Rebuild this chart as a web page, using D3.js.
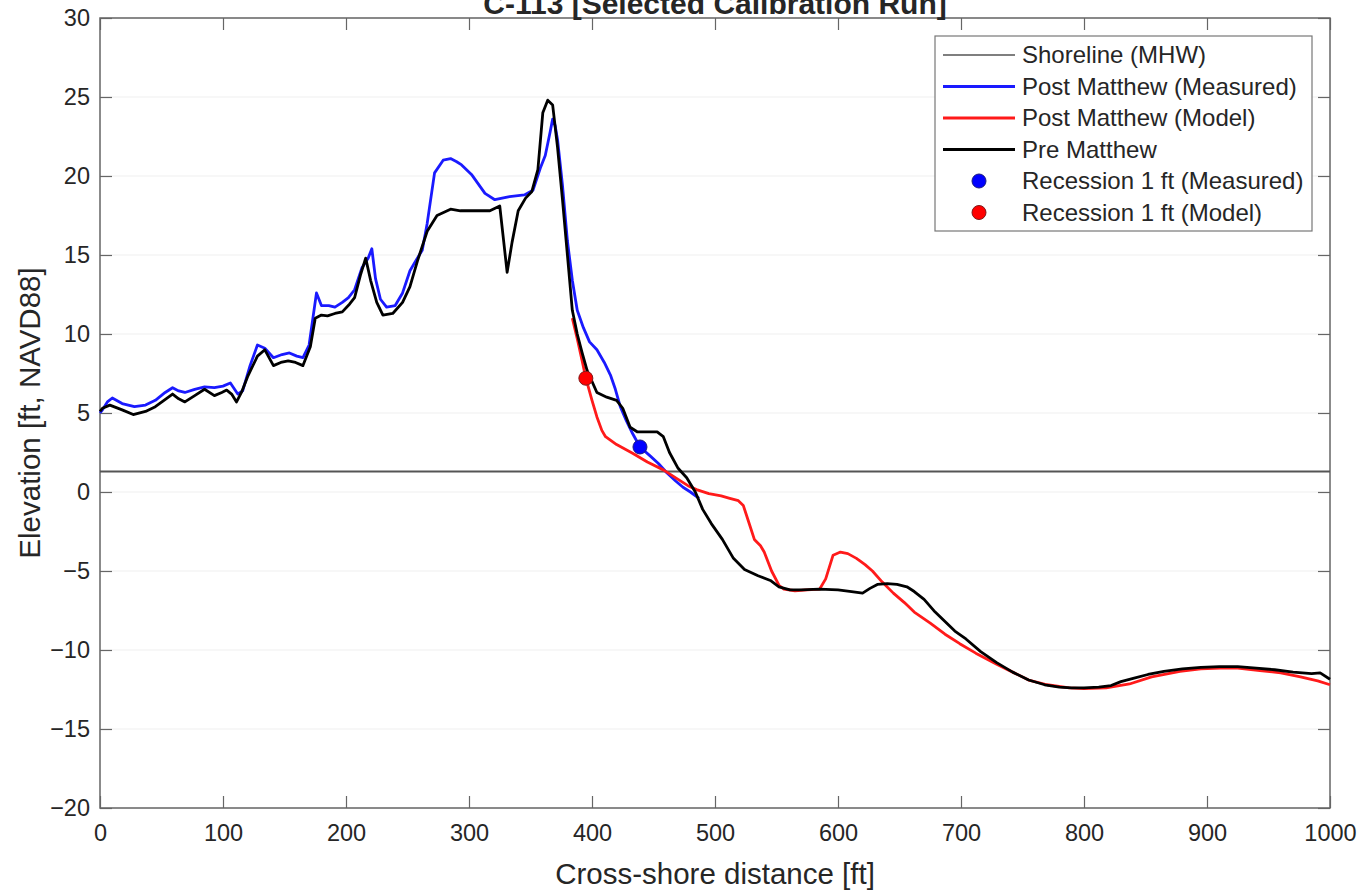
<!DOCTYPE html>
<html>
<head>
<meta charset="utf-8">
<title>C-113 profile</title>
<script src="https://d3js.org/d3.v7.min.js"></script>
<style>
  body { margin: 0; background: #fff; }
  text { font-family: "Liberation Sans", Arial, Helvetica, sans-serif; fill: #262626; }
</style>
</head>
<body>
<script>
// pre-storm profile (black)
var preDist = [0,2,8,18,27,37,45,52,59,64,69,77,85,93,99,103,107,111,115,120,128,134,141,147,153,159,165,171,175,180,185,191,197,203,207,212,216,220,225,230,238,246,252,258,266,274,285,293,301,310,317,325,328,331,335,340,346,351,356,360,364,368,372,376,380,384,388,392,396,404,412,420,425,431,437,444,453,458,463,470,477,484,490,497,506,515,524,535,545,552,561,570,585,600,611,620,626,632,640,648,656,662,670,679,687,695,704,716,729,742,755,768,780,790,800,812,822,830,840,852,865,880,895,910,925,940,955,970,985,992,1000];
var preElev = [5.1,5.3,5.5,5.2,4.9,5.1,5.4,5.8,6.2,5.9,5.7,6.1,6.5,6.1,6.3,6.45,6.2,5.7,6.3,7.3,8.6,9.0,8.0,8.2,8.3,8.2,8.0,9.2,11.0,11.2,11.15,11.3,11.4,11.9,12.3,13.8,14.8,13.4,12.0,11.2,11.3,12.0,13.0,14.6,16.5,17.5,17.9,17.8,17.8,17.8,17.8,18.1,16.0,13.9,15.8,17.8,18.6,19.0,20.4,24.0,24.8,24.5,21.8,18.5,15.0,11.5,10.0,8.8,7.7,6.3,6.0,5.8,5.3,4.1,3.8,3.8,3.8,3.5,2.5,1.5,0.9,0.0,-1.1,-2.0,-3.0,-4.2,-4.9,-5.3,-5.6,-6.0,-6.2,-6.2,-6.15,-6.2,-6.3,-6.4,-6.1,-5.85,-5.8,-5.85,-6.0,-6.3,-6.8,-7.6,-8.2,-8.8,-9.3,-10.1,-10.8,-11.4,-11.9,-12.2,-12.35,-12.4,-12.4,-12.35,-12.25,-12.0,-11.8,-11.55,-11.35,-11.2,-11.1,-11.05,-11.05,-11.15,-11.25,-11.4,-11.5,-11.45,-11.85];

// post-storm survey (blue)
var measDist = [0,2,6,10,18,28,37,45,53,59,64,69,77,85,93,100,106,112,116,122,128,134,141,148,154,160,165,170,176,180,186,191,197,202,207,213,218,221,224,228,233,240,246,252,258,262,266,272,279,285,290,294,302,313,321,333,345,352,358,362,366,368,370,372,376,380,384,388,393,398,404,410,415,419,423,428,433,439,447,454,461,468,474,480,487];
var measElev = [5.0,5.2,5.7,5.95,5.6,5.4,5.5,5.8,6.3,6.6,6.4,6.3,6.5,6.65,6.6,6.7,6.9,6.2,6.4,8.0,9.3,9.1,8.5,8.7,8.8,8.6,8.5,9.3,12.6,11.8,11.8,11.7,12.0,12.3,12.8,14.2,14.8,15.4,13.5,12.2,11.7,11.8,12.6,14.0,14.8,15.3,17.0,20.2,21.0,21.1,20.9,20.7,20.1,18.9,18.5,18.7,18.8,19.1,20.5,21.3,22.8,23.6,23.2,22.3,19.4,15.9,13.4,11.5,10.4,9.5,9.0,8.2,7.4,6.5,5.4,4.5,3.7,2.85,2.3,1.8,1.2,0.7,0.3,0.0,-0.4];

// model result (red)
var modelDist = [384,388,392,395,400,404,408,411,420,433,445,458,470,478,485,495,505,512,519,523,527,532,537,540,546,552,556,565,575,585,590,596,602,608,615,622,628,636,645,654,662,675,687,699,712,729,742,755,770,788,800,818,837,855,878,895,911,925,943,960,976,990,1000];
var modelElev = [11.0,9.7,8.3,7.2,5.8,4.75,3.9,3.5,3.0,2.45,1.9,1.4,0.8,0.4,0.15,-0.1,-0.25,-0.4,-0.55,-0.85,-1.8,-3.0,-3.4,-3.8,-5.0,-5.9,-6.15,-6.25,-6.2,-6.15,-5.5,-4.0,-3.8,-3.9,-4.2,-4.6,-5.0,-5.7,-6.4,-7.0,-7.6,-8.3,-9.0,-9.6,-10.2,-10.9,-11.4,-11.9,-12.2,-12.4,-12.45,-12.4,-12.15,-11.7,-11.35,-11.2,-11.15,-11.15,-11.3,-11.45,-11.7,-11.95,-12.2];

var shorelineElev = 1.3;
var recessMeas = [439, 2.85];
var recessModel = [395, 7.2];

var xTicks = [0,100,200,300,400,500,600,700,800,900,1000];
var yTicks = [-20,-15,-10,-5,0,5,10,15,20,25,30];

var W = 1367, H = 892;
var mL = 100, mR = 1330, mT = 18, mB = 808;

var svg = d3.select('body').append('svg')
  .attr('width', W)
  .attr('height', H);

var x = d3.scaleLinear().domain([0, 1000]).range([mL, mR]);
var y = d3.scaleLinear().domain([-20, 30]).range([mB, mT]);

// very faint grid
svg.append('g').selectAll('line').data(yTicks).enter().append('line')
  .attr('x1', mL).attr('x2', mR)
  .attr('y1', d => y(d)).attr('y2', d => y(d))
  .attr('stroke', '#f4f4f4').attr('stroke-width', 1.5);

// axes, MATLAB-like inward ticks on all sides
var tk = 12;
var fmt = d3.format('d');
svg.append('g').attr('transform', 'translate(0,' + mB + ')')
  .call(d3.axisBottom(x).tickValues(xTicks).tickSizeInner(-tk).tickSizeOuter(0).tickPadding(16).tickFormat(fmt))
  .call(g => g.select('.domain').remove());
svg.append('g').attr('transform', 'translate(0,' + mT + ')')
  .call(d3.axisTop(x).tickValues(xTicks).tickSizeInner(-tk).tickSizeOuter(0).tickFormat(''))
  .call(g => g.select('.domain').remove());
svg.append('g').attr('transform', 'translate(' + mL + ',0)')
  .call(d3.axisLeft(y).tickValues(yTicks).tickSizeInner(-tk).tickSizeOuter(0).tickPadding(10).tickFormat(fmt))
  .call(g => g.select('.domain').remove());
svg.append('g').attr('transform', 'translate(' + mR + ',0)')
  .call(d3.axisRight(y).tickValues(yTicks).tickSizeInner(-tk).tickSizeOuter(0).tickFormat(''))
  .call(g => g.select('.domain').remove());

svg.selectAll('.tick line').attr('stroke', '#666').attr('stroke-width', 1.2);
svg.selectAll('.tick text')
  .style('font-family', '"Liberation Sans", Arial, sans-serif')
  .style('font-size', '23.5px')
  .attr('fill', '#262626');

svg.append('rect')
  .attr('x', mL).attr('y', mT)
  .attr('width', mR - mL).attr('height', mB - mT)
  .attr('fill', 'none').attr('stroke', '#666').attr('stroke-width', 1.5);

// shoreline
svg.append('line')
  .attr('x1', mL).attr('x2', mR)
  .attr('y1', y(shorelineElev)).attr('y2', y(shorelineElev))
  .attr('stroke', '#555').attr('stroke-width', 2);

var line = d3.line().x(d => x(d[0])).y(d => y(d[1]));
function pairs(a, b) { return a.map((v, i) => [v, b[i]]); }

svg.append('path').datum(pairs(measDist, measElev))
  .attr('d', line).attr('fill', 'none').attr('stroke', '#1a1aff').attr('stroke-width', 2.8)
  .attr('stroke-linejoin', 'round');
svg.append('path').datum(pairs(modelDist, modelElev))
  .attr('d', line).attr('fill', 'none').attr('stroke', '#ff1a1a').attr('stroke-width', 2.8)
  .attr('stroke-linejoin', 'round');
svg.append('path').datum(pairs(preDist, preElev))
  .attr('d', line).attr('fill', 'none').attr('stroke', '#000').attr('stroke-width', 2.8)
  .attr('stroke-linejoin', 'round');

svg.append('circle').attr('cx', x(recessMeas[0])).attr('cy', y(recessMeas[1])).attr('r', 7)
  .attr('fill', '#0000ff').attr('stroke', '#1a1a80').attr('stroke-width', 1);
svg.append('circle').attr('cx', x(recessModel[0])).attr('cy', y(recessModel[1])).attr('r', 7)
  .attr('fill', '#ff0000').attr('stroke', '#801a1a').attr('stroke-width', 1);

// labels
svg.append('text')
  .attr('x', (mL + mR) / 2).attr('y', 14)
  .attr('text-anchor', 'middle')
  .style('font-size', '30px').style('font-weight', 'bold')
  .attr('fill', '#000')
  .text('C-113 [Selected Calibration Run]');

svg.append('text')
  .attr('x', (mL + mR) / 2).attr('y', 884)
  .attr('text-anchor', 'middle')
  .style('font-size', '29.5px')
  .text('Cross-shore distance [ft]');

svg.append('text')
  .attr('transform', 'translate(40,' + (mT + mB) / 2 + ') rotate(-90)')
  .attr('text-anchor', 'middle')
  .style('font-size', '29.5px')
  .text('Elevation [ft, NAVD88]');

// legend
var legendItems = [
  {label: 'Shoreline (MHW)', type: 'line', color: '#555', w: 1.5},
  {label: 'Post Matthew (Measured)', type: 'line', color: '#1a1aff', w: 3},
  {label: 'Post Matthew (Model)', type: 'line', color: '#ff1a1a', w: 3},
  {label: 'Pre Matthew', type: 'line', color: '#000', w: 3},
  {label: 'Recession 1 ft (Measured)', type: 'dot', color: '#0000ff', edge: '#1a1a80'},
  {label: 'Recession 1 ft (Model)', type: 'dot', color: '#ff0000', edge: '#801a1a'}
];
var lg = svg.append('g').attr('transform', 'translate(935,36)');
lg.append('rect').attr('width', 377).attr('height', 195)
  .attr('fill', '#fff').attr('stroke', '#777').attr('stroke-width', 1.2);
var rows = lg.selectAll('g.row').data(legendItems).enter().append('g')
  .attr('transform', (d, i) => 'translate(0,' + (19 + i * 31.5) + ')');
rows.filter(d => d.type === 'line').append('line')
  .attr('x1', 8).attr('x2', 80).attr('y1', 0).attr('y2', 0)
  .attr('stroke', d => d.color).attr('stroke-width', d => d.w);
rows.filter(d => d.type === 'dot').append('circle')
  .attr('cx', 44).attr('cy', 0).attr('r', 7)
  .attr('fill', d => d.color).attr('stroke', d => d.edge);
rows.append('text')
  .attr('x', 87).attr('y', 8)
  .style('font-size', '24px')
  .text(d => d.label);
</script>
</body>
</html>
